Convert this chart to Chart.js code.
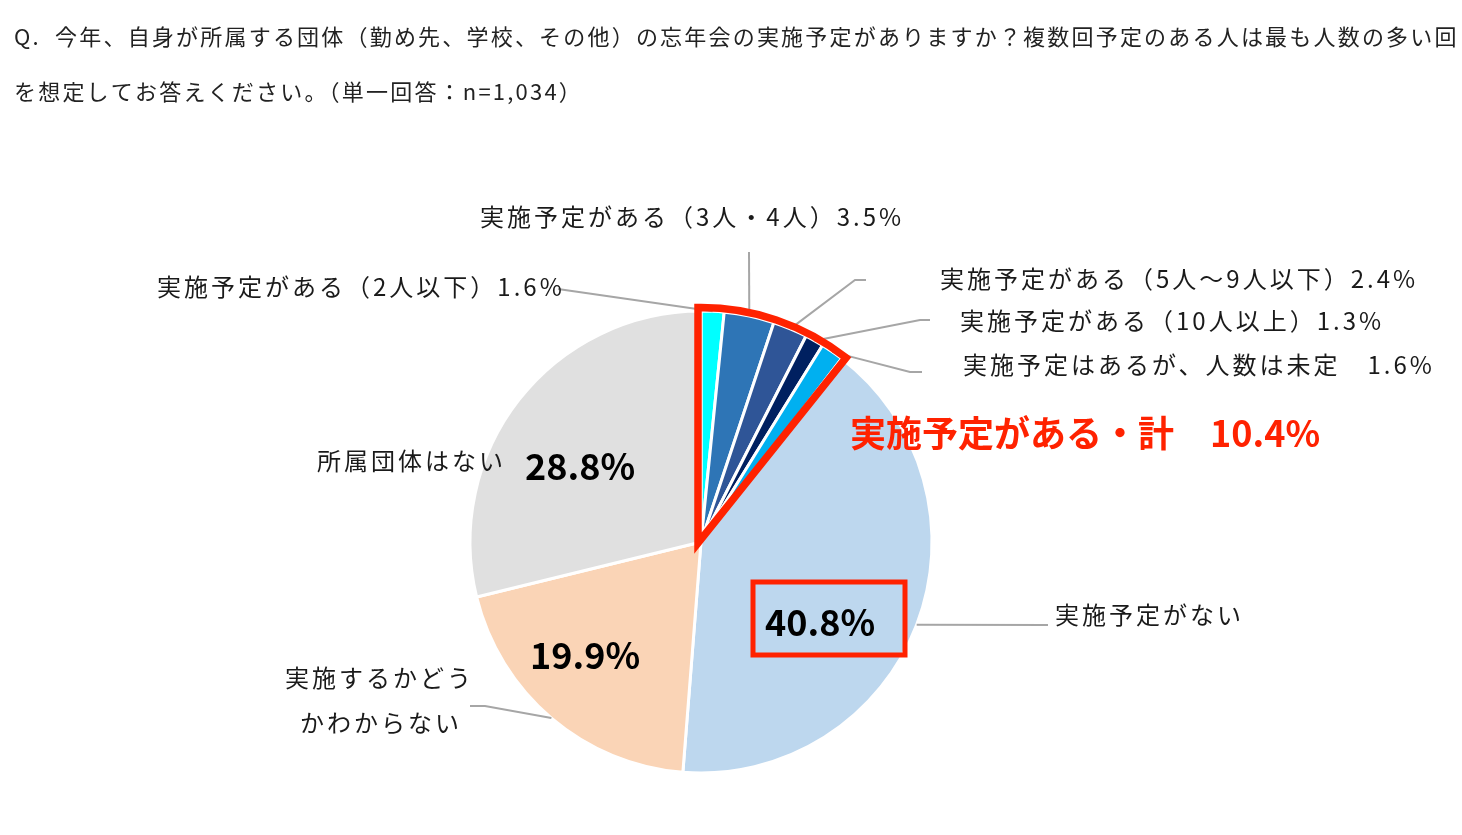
<!DOCTYPE html>
<html>
<head>
<meta charset="utf-8">
<script src="https://cdn.jsdelivr.net/npm/chart.js@4.4.1/dist/chart.umd.min.js"></script>
<style>
  html, body { margin: 0; background: #fff; }
  #wrap { width: 1462px; height: 835px; }
</style>
</head>
<body>
<div id="wrap"><canvas id="pieChart"></canvas></div>
<script>
// survey answers, clockwise from 12 o'clock
const categories = [
  '実施予定がある（2人以下）',
  '実施予定がある（3人・4人）',
  '実施予定がある（5人～9人以下）',
  '実施予定がある（10人以上）',
  '実施予定はあるが、人数は未定　',
  '実施予定がない',
  '実施するかどうかわからない',
  '所属団体はない'
];
const values = [1.6, 3.5, 2.4, 1.3, 1.6, 40.8, 19.9, 28.8];
const colors = ['#00FFFF', '#2E75B6', '#2F5597', '#002060', '#00B0F0', '#BDD7EE', '#FAD4B6', '#E0E0E0'];
const plannedCount = 5; // first five slices make up "実施予定がある"

const titleLines = [
  'Q.  今年、自身が所属する団体（勤め先、学校、その他）の忘年会の実施予定がありますか？複数回予定のある人は最も人数の多い回',
  'を想定してお答えください。（単一回答：n=1,034）'
];

const JP = '"Noto Sans CJK JP", "Noto Sans", sans-serif';

// label placement (left x, middle y) and leader line elbows
const labelLayout = [
  { x: 157, y: [287], legs: [[558, 289]] },
  { x: 480, y: [217], legs: [[749, 252]] },
  { x: 940, y: [279], legs: [[866, 280], [855, 280]] },
  { x: 960, y: [321], legs: [[930, 320], [920, 320]] },
  { x: 963, y: [365], legs: [[922, 372], [910, 372]] },
  { x: 1055, y: [615], legs: [[1048, 625]], big: [820, 622] },
  { x: [285, 300], y: [678, 723], split: 7, legs: [[470, 706], [485, 706]], big: [585, 655] },
  { x: 317, y: [461], legs: null, big: [580, 466] }
];

function labelLines(i) {
  const L = labelLayout[i];
  if (L.split) return [categories[i].slice(0, L.split), categories[i].slice(L.split)];
  if (L.big) return [categories[i]];
  return [categories[i] + values[i].toFixed(1) + '%'];
}

const annotate = {
  id: 'annotate',
  afterDatasetsDraw(chart) {
    const ctx = chart.ctx;
    const arcs = chart.getDatasetMeta(0).data;
    ctx.save();

    // leader lines
    ctx.strokeStyle = '#A6A6A6';
    ctx.lineWidth = 2;
    arcs.forEach((arc, i) => {
      const legs = labelLayout[i].legs;
      if (!legs) return;
      const mid = (arc.startAngle + arc.endAngle) / 2;
      ctx.beginPath();
      legs.forEach(([px, py], k) => k ? ctx.lineTo(px, py) : ctx.moveTo(px, py));
      ctx.lineTo(arc.x + Math.cos(mid) * arc.outerRadius, arc.y + Math.sin(mid) * arc.outerRadius);
      ctx.stroke();
    });

    // red outline around the planned group
    const first = arcs[0], last = arcs[plannedCount - 1];
    const cx = first.x, cy = first.y, R = first.outerRadius + 3.5;
    const d = Math.asin(3 / R);
    ctx.strokeStyle = '#FF2200';
    ctx.lineWidth = 7.5;
    ctx.lineJoin = 'miter';
    ctx.beginPath();
    ctx.moveTo(cx - 3, cy + 1);
    ctx.arc(cx, cy, R, first.startAngle - d, last.endAngle + d);
    ctx.closePath();
    ctx.stroke();
    ctx.restore();
  },
  afterDraw(chart) {
    const ctx = chart.ctx;
    ctx.save();
    ctx.textBaseline = 'middle';
    ctx.textAlign = 'left';

    // question
    ctx.fillStyle = '#222';
    ctx.font = '22px ' + JP;
    ctx.letterSpacing = '2.2px';
    ctx.fillText(titleLines[0], 14, 37);
    ctx.fillText(titleLines[1], 14, 92);

    // category labels
    ctx.font = '24px ' + JP;
    ctx.letterSpacing = '3px';
    ctx.fillStyle = '#1a1a1a';
    labelLayout.forEach((L, i) => {
      labelLines(i).forEach((t, k) => {
        const x = Array.isArray(L.x) ? L.x[k] : L.x;
        ctx.fillText(t, x, L.y[k]);
      });
    });

    // big percentages
    ctx.font = '600 36px ' + JP;
    ctx.letterSpacing = '0px';
    ctx.textAlign = 'center';
    ctx.fillStyle = '#000';
    labelLayout.forEach((L, i) => {
      if (L.big) ctx.fillText(values[i].toFixed(1) + '%', L.big[0], L.big[1]);
    });

    // box around 実施予定がない
    const b = labelLayout[5].big;
    ctx.strokeStyle = '#FF2200';
    ctx.lineWidth = 5;
    ctx.strokeRect(b[0] - 67, b[1] - 40, 152, 73);

    // total of planned group
    const total = values.slice(0, plannedCount).reduce((a, v) => a + v, 0);
    ctx.textAlign = 'left';
    ctx.fillStyle = '#FF2200';
    ctx.font = 'bold 36px ' + JP;
    ctx.letterSpacing = '0px';
    ctx.fillText('実施予定がある・計　' + total.toFixed(1) + '%', 850, 433);
    ctx.restore();
  }
};

new Chart(document.getElementById('pieChart'), {
  type: 'pie',
  data: {
    labels: categories,
    datasets: [{
      data: values,
      backgroundColor: colors,
      borderColor: '#FFFFFF',
      borderWidth: 3,
      hoverBorderWidth: 3,
      hoverOffset: 0,
      offset: 0
    }]
  },
  options: {
    responsive: true,
    maintainAspectRatio: false,
    animation: false,
    events: [],
    layout: { padding: { left: 468.5, right: 528.5, top: 309.5, bottom: 60.5 } },
    plugins: {
      legend: { display: false },
      title: { display: false },
      tooltip: { enabled: false }
    }
  },
  plugins: [annotate]
});
</script>
</body>
</html>
